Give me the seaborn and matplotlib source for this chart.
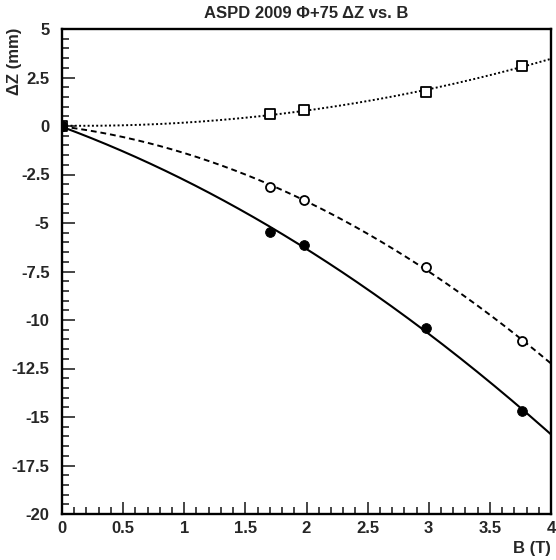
import numpy as np
import pandas as pd
import matplotlib
matplotlib.use("Agg")
import matplotlib.pyplot as plt
import seaborn as sns
from matplotlib.ticker import MultipleLocator, FixedLocator

B = [0.0, 1.70, 1.98, 2.98, 3.76]
dz_square = [0.0, 0.62, 0.80, 1.75, 3.10]
dz_open = [0.0, -3.15, -3.80, -7.27, -11.08]
dz_filled = [0.0, -5.46, -6.13, -10.41, -14.69]

xticks = [0, 0.5, 1, 1.5, 2, 2.5, 3, 3.5, 4]
xticklabels = ["0", "0.5", "1", "1.5", "2", "2.5", "3", "3.5", "4"]
yticks = [5, 2.5, 0, -2.5, -5, -7.5, -10, -12.5, -15, -17.5, -20]
yticklabels = ["5", "2.5", "0", "-2.5", "-5", "-7.5", "-10", "-12.5", "-15", "-17.5", "-20"]

sns.set_style("ticks")
plt.rcParams['font.family'] = ['Liberation Sans', 'DejaVu Sans']
plt.rcParams['font.weight'] = 'bold'

fig = plt.figure(figsize=(5.56, 5.6), dpi=100)
ax = fig.add_axes([62/556, 1-514/560, (551-62)/556, (514-29)/560])

bfit = np.linspace(0, 4, 200)
curves = [(dz_square, (0, (1, 1.2)), 1.4), (dz_open, (0, (3, 2)), 1.4), (dz_filled, "-", 1.5)]
for yv, ls, lw in curves:
    c = np.polyfit(B, yv, 2)
    df = pd.DataFrame({"B": bfit, "dz": np.polyval(c, bfit)})
    sns.lineplot(data=df, x="B", y="dz", ax=ax, color="black", linestyle=ls, linewidth=lw)

sns.scatterplot(x=B, y=dz_square, ax=ax, marker="s", s=45, facecolor="white", edgecolor="black", linewidth=1.3, zorder=5)
sns.scatterplot(x=B, y=dz_open, ax=ax, marker="o", s=42, facecolor="white", edgecolor="black", linewidth=1.3, zorder=5)
sns.scatterplot(x=B, y=dz_filled, ax=ax, marker="o", s=50, color="black", edgecolor="black", zorder=5)

ax.set_xlim(0, 4)
ax.set_ylim(-20, 5)
ax.xaxis.set_major_locator(FixedLocator(xticks))
ax.set_xticklabels(xticklabels)
ax.yaxis.set_major_locator(FixedLocator(yticks))
ax.set_yticklabels(yticklabels)
ax.xaxis.set_minor_locator(MultipleLocator(0.1))
ax.yaxis.set_minor_locator(MultipleLocator(0.5))
ax.tick_params(which="both", direction="in", top=False, right=False, labelsize=12, width=1.2)
ax.tick_params(which="major", length=9)
ax.tick_params(which="minor", length=5)
ax.tick_params(axis="y", pad=9)
ax.tick_params(axis="x", pad=5)
for lab in ax.get_xticklabels() + ax.get_yticklabels():
    lab.set_fontweight("bold")
for sp in ax.spines.values():
    sp.set_visible(True)
    sp.set_linewidth(1.7)
    sp.set_color("black")

ax.set_xlabel("")
ax.set_ylabel("")
fig.text(551/556, 1-549/560, "B (T)", ha="right", va="center", fontsize=12, fontweight="bold")
fig.text(14/556, 1-28/560, "ΔZ (mm)", ha="center", va="top", rotation=90, fontsize=12, fontweight="bold")
fig.text(306/556, 1-14/560, "ASPD 2009 Φ+75 ΔZ vs. B", ha="center", va="center", fontsize=12, fontweight="bold")

fig.savefig("out.png", dpi=100)
